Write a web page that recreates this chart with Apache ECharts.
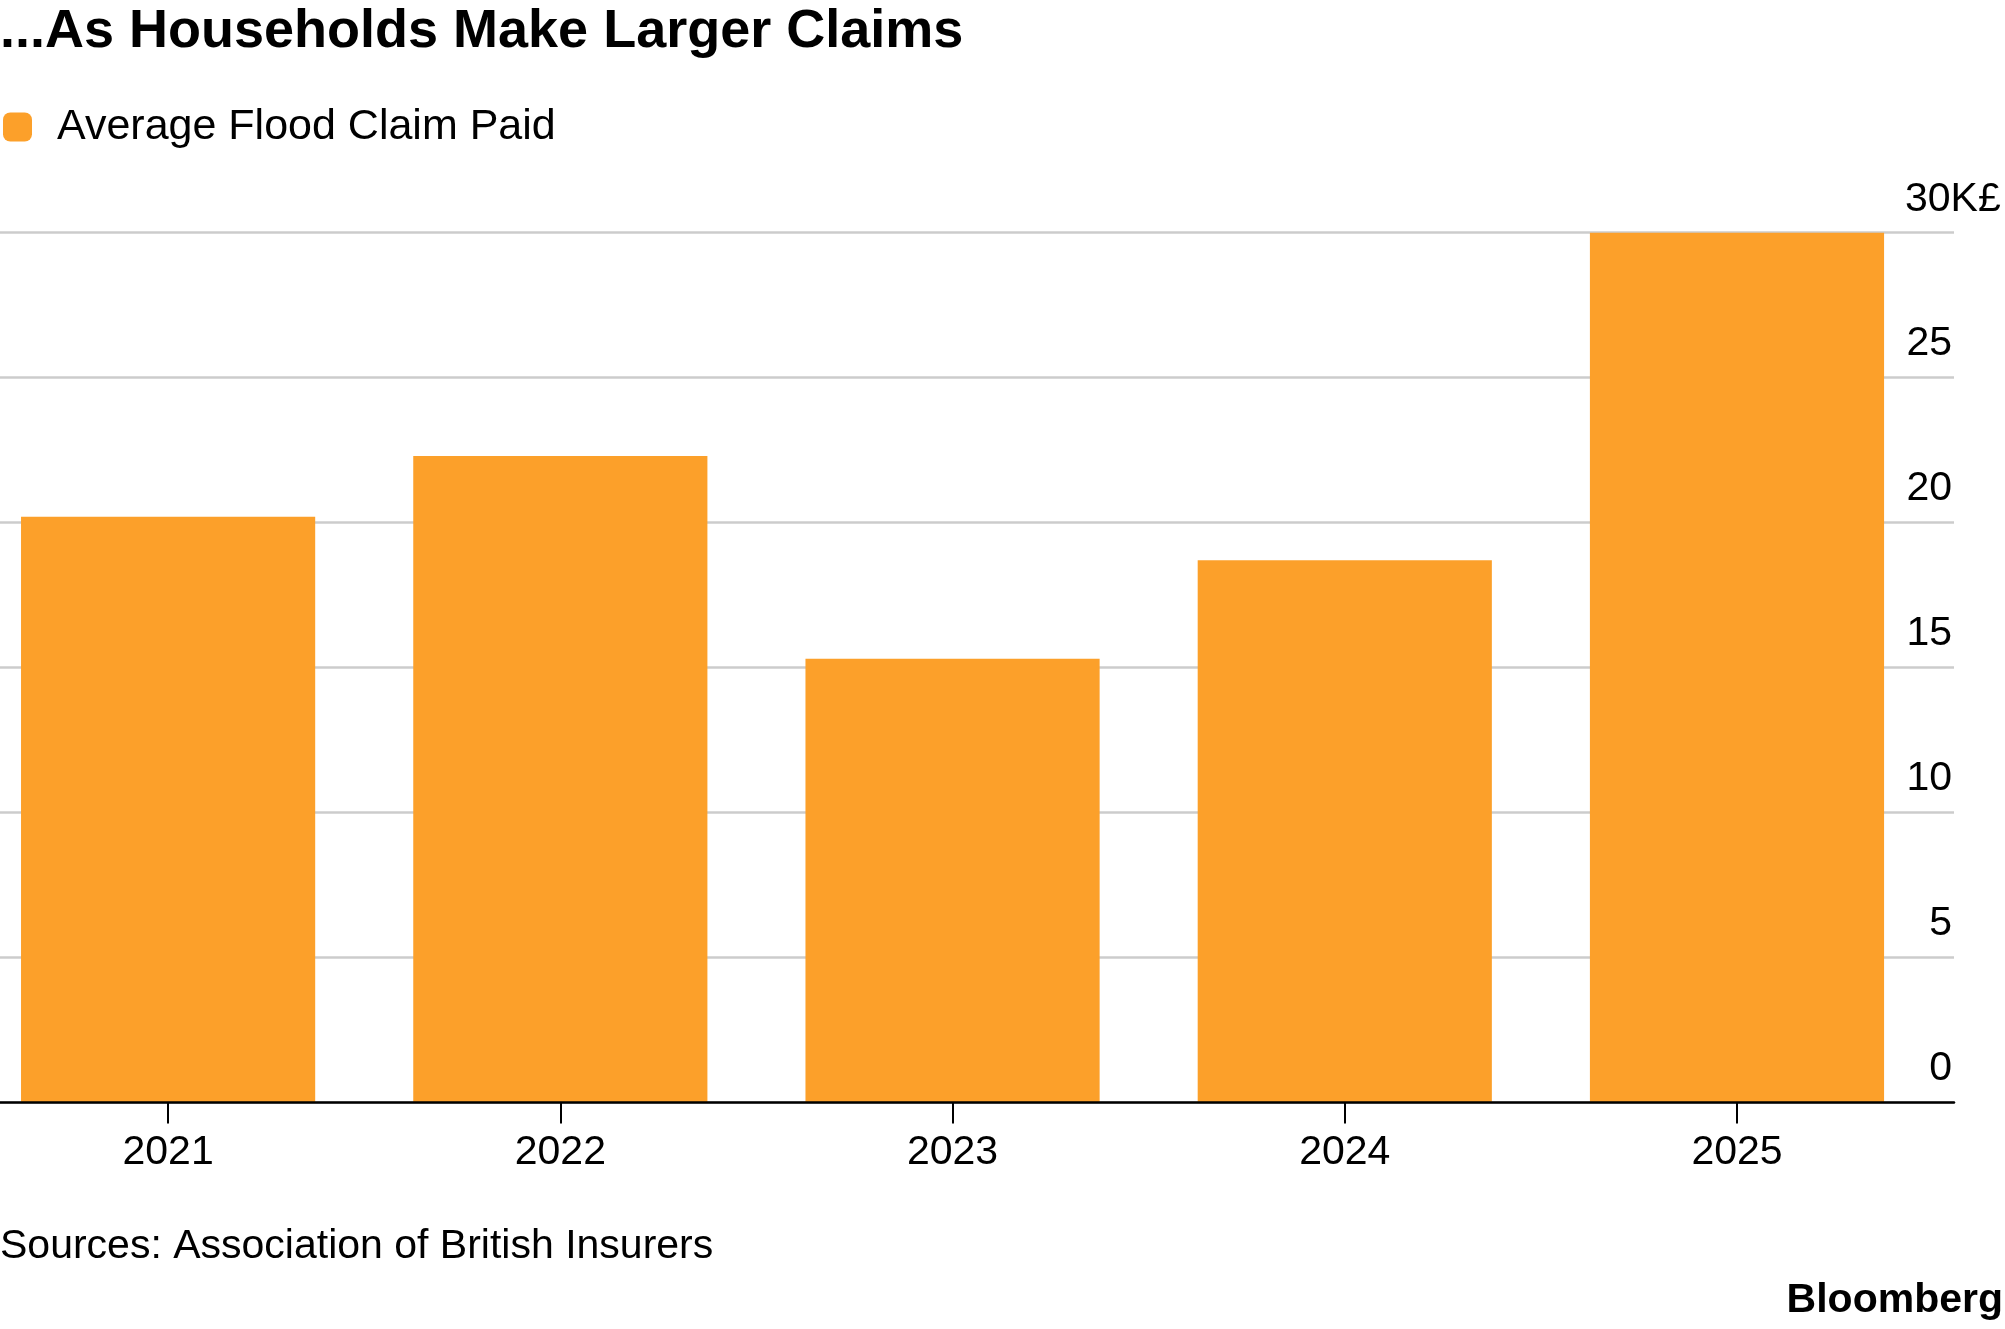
<!DOCTYPE html>
<html>
<head>
<meta charset="utf-8">
<script src="https://cdn.jsdelivr.net/npm/echarts@6/dist/echarts.min.js"></script>
<style>
  html, body { margin: 0; padding: 0; background: #fff; overflow: hidden; }
  #wrap { position: relative; width: 2005px; height: 1329px; overflow: hidden; }
  #chart { position: absolute; left: -28px; top: 0; width: 2033px; height: 1329px; }
</style>
</head>
<body>
<div id="wrap"><div id="chart"></div></div>
<script>
const titleText = '...As Households Make Larger Claims';
const seriesName = 'Average Flood Claim Paid';
const sourceText = 'Sources: Association of British Insurers';
const years = ['2021', '2022', '2023', '2024', '2025'];
const claimValues = [20.2, 22.3, 15.3, 18.7, 30.0];
const yMin = 0, yMax = 30, yStep = 5;
const topLabelSuffix = 'K£';

const FONT = '"Liberation Sans", Arial, Helvetica, sans-serif';
const ORANGE = '#FCA02A';
const SHIFT = 28; // chart canvas starts 28px left of the page edge

const chart = echarts.init(document.getElementById('chart'), null, { renderer: 'canvas' });

const gridTop = 232.7, gridBottom = 226.6;

chart.setOption({
  animation: false,
  backgroundColor: '#ffffff',
  title: [
    {
      text: titleText, left: SHIFT, top: 5, padding: 0,
      textStyle: { fontFamily: FONT, fontSize: 54, fontWeight: 'bold', color: '#000', lineHeight: 54 }
    },
    {
      text: sourceText, left: SHIFT, top: 1226, padding: 0,
      textStyle: { fontFamily: FONT, fontSize: 41, fontWeight: 'normal', color: '#000', lineHeight: 41 }
    },
    {
      text: 'Bloomberg', right: 2, top: 1280, padding: 0,
      textStyle: { fontFamily: FONT, fontSize: 41, fontWeight: 'bold', color: '#000', lineHeight: 41 }
    }
  ],
  legend: {
    left: SHIFT + 3, top: 105.5, padding: 0, itemWidth: 29, itemHeight: 29, icon: 'roundRect',
    textStyle: { fontFamily: FONT, fontSize: 43, color: '#000', lineHeight: 36, padding: [0, 0, 0, 20] },
    data: [seriesName]
  },
  grid: [
    { left: SHIFT, right: 51, top: gridTop, bottom: gridBottom },
    { left: 0, right: 71.9, top: gridTop, bottom: gridBottom }
  ],
  xAxis: [
    {
      gridIndex: 0, type: 'value', min: 0, max: 1, z: 5,
      axisLine: { show: true, lineStyle: { color: '#000', width: 2.5 } },
      axisTick: { show: false }, axisLabel: { show: false }, splitLine: { show: false }
    },
    {
      gridIndex: 1, type: 'category', data: years,
      axisLine: { show: false },
      axisTick: { show: true, alignWithLabel: true, length: 21, lineStyle: { color: '#000', width: 2 } },
      axisLabel: { fontFamily: FONT, fontSize: 41, color: '#000', margin: 30 }
    }
  ],
  yAxis: [
    {
      gridIndex: 0, type: 'value', min: yMin, max: yMax, interval: yStep, position: 'right',
      axisLine: { show: false }, axisTick: { show: false },
      splitLine: { show: true, lineStyle: { color: '#cccccc', width: 2.5 } },
      axisLabel: {
        inside: true, margin: 2, align: 'right', verticalAlign: 'bottom', lineHeight: 67,
        fontFamily: FONT, fontSize: 41, color: '#000', showMinLabel: true, showMaxLabel: true,
        formatter: v => (v === yMax ? '' : String(v))
      }
    },
    {
      gridIndex: 0, type: 'value', min: yMin, max: yMax, interval: yStep, position: 'right',
      axisLine: { show: false }, axisTick: { show: false }, splitLine: { show: false },
      axisLabel: {
        inside: true, margin: 49, align: 'left', verticalAlign: 'bottom', lineHeight: 67,
        fontFamily: FONT, fontSize: 41, color: '#000', showMinLabel: true, showMaxLabel: true,
        formatter: v => (v === yMax ? String(v) + topLabelSuffix : '')
      }
    },
    {
      gridIndex: 1, type: 'value', min: yMin, max: yMax, show: false
    }
  ],
  series: [
    {
      name: seriesName, type: 'bar', xAxisIndex: 1, yAxisIndex: 2,
      data: claimValues, barCategoryGap: '25%',
      itemStyle: { color: ORANGE }
    }
  ]
});
</script>
</body>
</html>
